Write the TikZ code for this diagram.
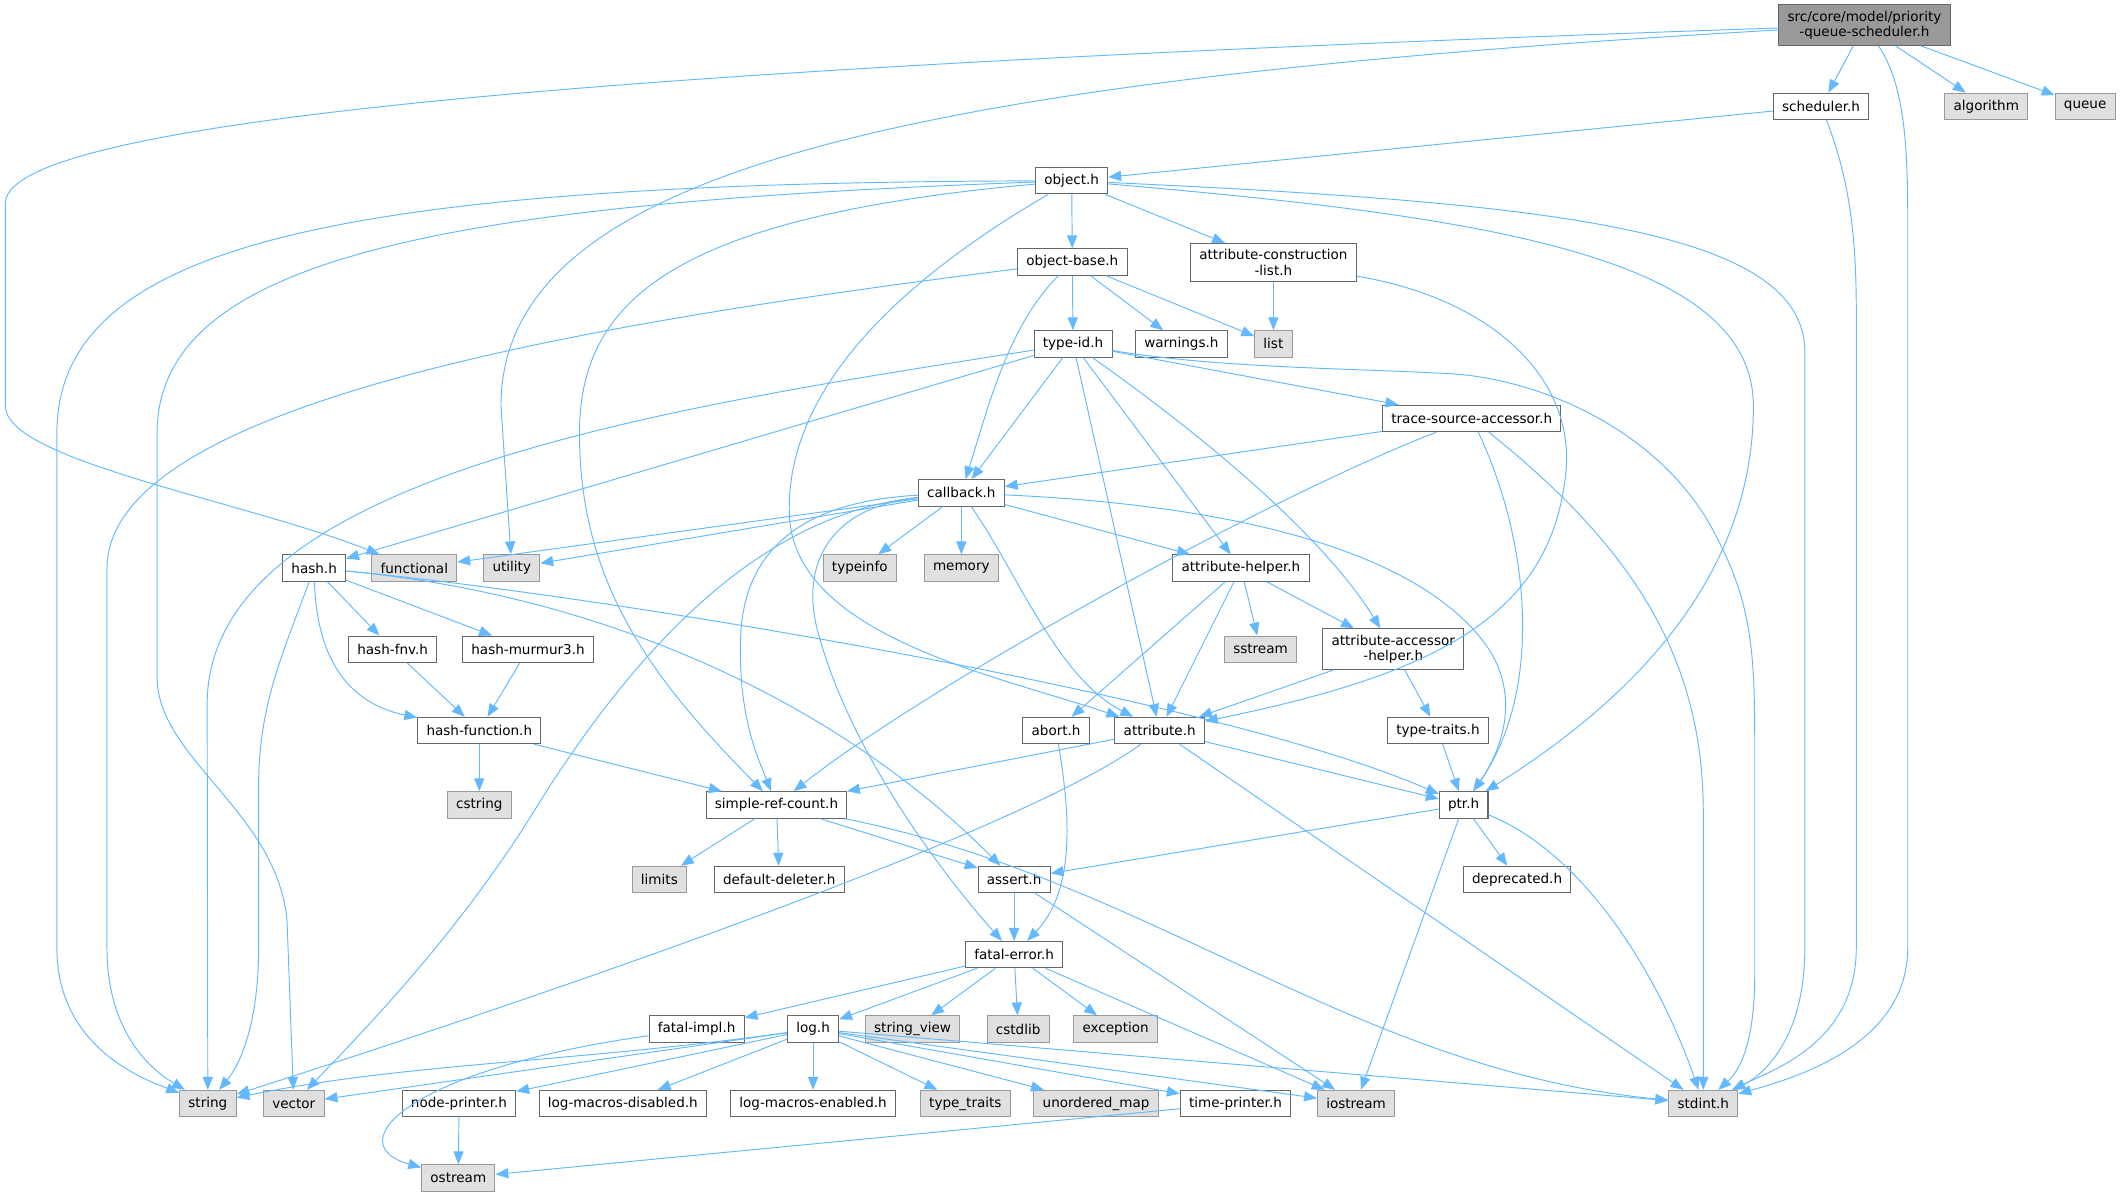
\documentclass[tikz,border=0pt]{standalone}
\usepackage{fontspec}
\setmainfont{DejaVu Sans}
\usepackage{xcolor}
\usetikzlibrary{arrows.meta}
\definecolor{edgeblue}{HTML}{63B8FF}
\definecolor{grayline}{HTML}{666666}
\definecolor{lightline}{HTML}{999999}
\definecolor{sysfill}{HTML}{E0E0E0}
\definecolor{topfill}{HTML}{999999}

\begin{document}
\begin{tikzpicture}[x=1pt, y=-1pt,
  hdr/.style={draw=grayline, fill=white, line width=0.75pt, inner xsep=6.5pt, inner ysep=4.5pt,
    minimum height=19.5pt, align=center, font=\fontsize{10}{11.5}\selectfont},
  stdhdr/.style={hdr, draw=lightline, fill=sysfill},
  tophdr/.style={hdr, fill=topfill},
  incl/.style={draw=edgeblue, line width=0.7pt, -{Triangle[length=9.5pt,width=7.5pt]}}]
  \useasboundingbox (0,0) rectangle (1568,884);

  % Row 1 (top)
  \node[tophdr] (root) at (1377,18.5) {src/core/model/priority\\-queue-scheduler.h};
  % Row 2
  \node[hdr] (sched) at (1345,78.5) {scheduler.h};
  \node[stdhdr] (algo) at (1467,78.5) {algorithm};
  \node[stdhdr] (queue) at (1540,78.5) {queue};
  % Row 3
  \node[hdr] (object) at (791.5,133.5) {object.h};
  % Row 4
  \node[hdr] (objbase) at (792,193.5) {object-base.h};
  \node[hdr] (acl) at (940.5,194) {attribute-construction\\-list.h};
  % Row 5
  \node[hdr] (typeid) at (792.5,254) {type-id.h};
  \node[hdr] (warnings) at (872.5,254) {warnings.h};
  \node[stdhdr] (list) at (940.5,254) {list};
  % Row 6
  \node[hdr] (trace) at (1087,309) {trace-source-accessor.h};
  % Row 7
  \node[hdr] (callback) at (710,364) {callback.h};
  % Row 8
  \node[hdr] (hash) at (232,419.5) {hash.h};
  \node[stdhdr] (functional) at (306,419.5) {functional};
  \node[stdhdr] (utility) at (378,419.5) {utility};
  \node[stdhdr] (typeinfo) at (635,419.5) {typeinfo};
  \node[stdhdr] (memory) at (710,419.5) {memory};
  \node[hdr] (attrhelper) at (916.5,419.5) {attribute-helper.h};
  % Row 9
  \node[hdr] (hashfnv) at (290,479.5) {hash-fnv.h};
  \node[hdr] (murmur) at (390,479.5) {hash-murmur3.h};
  \node[stdhdr] (sstream) at (931,479.5) {sstream};
  \node[hdr] (aah) at (1029,479.5) {attribute-accessor\\-helper.h};
  % Row 10
  \node[hdr] (hashfn) at (354,539.5) {hash-function.h};
  \node[hdr] (abort) at (780,539.5) {abort.h};
  \node[hdr] (attribute) at (856.5,539.5) {attribute.h};
  \node[hdr] (typetraits) at (1062,539.5) {type-traits.h};
  % Row 11
  \node[stdhdr] (cstring) at (354,594.5) {cstring};
  \node[hdr] (src) at (573.5,594.5) {simple-ref-count.h};
  \node[hdr] (ptr) at (1081,594.5) {ptr.h};
  % Row 12
  \node[stdhdr] (limits) at (487,649.5) {limits};
  \node[hdr] (deleter) at (575.5,649.5) {default-deleter.h};
  \node[hdr] (assert) at (749,649.5) {assert.h};
  \node[hdr] (deprecated) at (1120.5,649.5) {deprecated.h};
  % Row 13
  \node[hdr] (fatal) at (749,705) {fatal-error.h};
  % Row 14
  \node[hdr] (fatalimpl) at (514.5,760) {fatal-impl.h};
  \node[hdr] (log) at (600.5,760) {log.h};
  \node[stdhdr] (strview) at (674,760) {string\_view};
  \node[stdhdr] (cstdlib) at (752,760) {cstdlib};
  \node[stdhdr] (exception) at (824,760) {exception};
  % Row 15
  \node[stdhdr] (string) at (153.5,815) {string};
  \node[stdhdr] (vector) at (217,815) {vector};
  \node[hdr] (nodeprinter) at (339,815) {node-printer.h};
  \node[hdr] (lmdis) at (460,815) {log-macros-disabled.h};
  \node[hdr] (lmen) at (600.5,815) {log-macros-enabled.h};
  \node[stdhdr] (typetraitsstd) at (713,815) {type\_traits};
  \node[stdhdr] (umap) at (809.5,815) {unordered\_map};
  \node[hdr] (timeprinter) at (912.5,815) {time-printer.h};
  \node[stdhdr] (iostream) at (1001.5,815) {iostream};
  \node[stdhdr] (stdint) at (1258,815) {stdint.h};
  % Row 16 (bottom)
  \node[stdhdr] (ostream) at (338.5,870) {ostream};

  % from priority-queue-scheduler.h
  \draw[incl] (root) .. controls (600,45) and (4,80) .. (4,150) -- (4,300) .. controls (4,340) and (180,370) .. (functional);
  \draw[incl] (root) .. controls (650,60) and (370,130) .. (370,300) -- (utility);
  \draw[incl] (root) -- (sched);
  \draw[incl] (root) -- (algo);
  \draw[incl] (root) -- (queue);
  \draw[incl] (root) .. controls (1405,60) and (1409,100) .. (1409,160) -- (1409,700) .. controls (1409,770) and (1330,795) .. (stdint);

  % from scheduler.h
  \draw[incl] (sched) -- (object);
  \draw[incl] (sched) .. controls (1365,130) and (1371,170) .. (1371,230) -- (1371,700) .. controls (1371,770) and (1310,790) .. (stdint);

  % from object.h
  \draw[incl] (object) .. controls (250,135) and (42,180) .. (42,320) -- (42,700) .. controls (42,770) and (100,795) .. (string);
  \draw[incl] (object) .. controls (330,150) and (116,190) .. (116,320) -- (116,500) .. controls (116,560) and (205,600) .. (212,680) -- (vector);
  \draw[incl] (object) -- (objbase);
  \draw[incl] (object) -- (acl);
  \draw[incl] (object) .. controls (500,160) and (428,220) .. (428,320) .. controls (428,430) and (480,500) .. (src);
  \draw[incl] (object) .. controls (660,210) and (580,290) .. (583,380) .. controls (586,470) and (740,500) .. (attribute);
  \draw[incl] (object) .. controls (1100,160) and (1295,190) .. (1295,300) .. controls (1295,430) and (1200,520) .. (ptr);
  \draw[incl] (object) .. controls (1150,150) and (1333,170) .. (1333,260) -- (1333,700) .. controls (1333,780) and (1290,800) .. (stdint);

  % from object-base.h
  \draw[incl] (objbase) .. controls (420,240) and (79,300) .. (79,420) -- (79,700) .. controls (79,770) and (120,795) .. (string);
  \draw[incl] (objbase) -- (typeid);
  \draw[incl] (objbase) -- (warnings);
  \draw[incl] (objbase) -- (list);
  \draw[incl] (objbase) .. controls (745,240) and (730,300) .. (callback);

  % from attribute-construction-list.h
  \draw[incl] (acl) -- (list);
  \draw[incl] (acl) .. controls (1100,220) and (1170,280) .. (1155,360) .. controls (1140,460) and (1050,500) .. (attribute);

  % from type-id.h
  \draw[incl] (typeid) .. controls (500,300) and (153,350) .. (153,520) -- (string);
  \draw[incl] (typeid) -- (hash);
  \draw[incl] (typeid) -- (callback);
  \draw[incl] (typeid) -- (attribute);
  \draw[incl] (typeid) -- (attrhelper);
  \draw[incl] (typeid) .. controls (900,330) and (980,400) .. (aah);
  \draw[incl] (typeid) -- (trace);
  \draw[incl] (typeid) .. controls (900,272) and (1000,272) .. (1071,276) .. controls (1140,280) and (1230,320) .. (1268,397)
     .. controls (1296,450) and (1296,490) .. (1296,560) -- (1296,720) .. controls (1296,780) and (1280,795) .. (stdint);

  % from trace-source-accessor.h
  \draw[incl] (trace) -- (callback);
  \draw[incl] (trace) .. controls (930,370) and (680,510) .. (src);
  \draw[incl] (trace) .. controls (1130,400) and (1140,510) .. (ptr);
  \draw[incl] (trace) .. controls (1200,400) and (1258,480) .. (1258,600) -- (stdint);

  % from callback.h
  \draw[incl] (callback) -- (functional);
  \draw[incl] (callback) -- (utility);
  \draw[incl] (callback) -- (typeinfo);
  \draw[incl] (callback) -- (memory);
  \draw[incl] (callback) -- (attrhelper);
  \draw[incl] (callback) .. controls (560,380) and (470,480) .. (400,590) .. controls (340,690) and (260,770) .. (vector);
  \draw[incl] (callback) .. controls (600,370) and (550,400) .. (547,470) .. controls (545,530) and (560,560) .. (src);
  \draw[incl] (callback) .. controls (610,375) and (590,420) .. (605,470) .. controls (630,560) and (700,650) .. (fatal);
  \draw[incl] (callback) .. controls (750,420) and (780,500) .. (attribute);
  \draw[incl] (callback) .. controls (950,375) and (1060,420) .. (1100,480) .. controls (1125,520) and (1105,560) .. (ptr);

  % from hash.h
  \draw[incl] (hash) .. controls (210,480) and (191,520) .. (191,580) -- (191,700) .. controls (191,770) and (170,795) .. (string);
  \draw[incl] (hash) -- (hashfnv);
  \draw[incl] (hash) -- (murmur);
  \draw[incl] (hash) .. controls (234,490) and (260,520) .. (hashfn);
  \draw[incl] (hash) .. controls (450,440) and (900,515) .. (ptr);
  \draw[incl] (hash) .. controls (450,440) and (620,520) .. (assert);

  % hash functions
  \draw[incl] (hashfnv) -- (hashfn);
  \draw[incl] (murmur) -- (hashfn);
  \draw[incl] (hashfn) -- (cstring);
  \draw[incl] (hashfn) -- (src);

  % attribute helpers
  \draw[incl] (attrhelper) -- (abort);
  \draw[incl] (attrhelper) -- (attribute);
  \draw[incl] (attrhelper) -- (sstream);
  \draw[incl] (attrhelper) -- (aah);
  \draw[incl] (aah) -- (attribute);
  \draw[incl] (aah) -- (typetraits);
  \draw[incl] (typetraits) -- (ptr);
  \draw[incl] (abort) .. controls (792,610) and (792,660) .. (fatal);

  % from attribute.h
  \draw[incl] (attribute) .. controls (760,610) and (450,720) .. (string);
  \draw[incl] (attribute) -- (src);
  \draw[incl] (attribute) -- (ptr);
  \draw[incl] (attribute) -- (stdint);

  % from simple-ref-count.h
  \draw[incl] (src) -- (limits);
  \draw[incl] (src) -- (deleter);
  \draw[incl] (src) -- (assert);
  \draw[incl] (src) .. controls (850,650) and (1000,790) .. (stdint);

  % from ptr.h
  \draw[incl] (ptr) -- (assert);
  \draw[incl] (ptr) -- (deprecated);
  \draw[incl] (ptr) -- (iostream);
  \draw[incl] (ptr) .. controls (1170,630) and (1225,720) .. (stdint);

  % from assert.h
  \draw[incl] (assert) -- (fatal);
  \draw[incl] (assert) -- (iostream);

  % from fatal-error.h
  \draw[incl] (fatal) -- (fatalimpl);
  \draw[incl] (fatal) -- (log);
  \draw[incl] (fatal) -- (strview);
  \draw[incl] (fatal) -- (cstdlib);
  \draw[incl] (fatal) -- (exception);
  \draw[incl] (fatal) -- (iostream);
  \draw[incl] (fatalimpl) .. controls (300,790) and (250,845) .. (ostream);

  % from log.h
  \draw[incl] (log) .. controls (420,785) and (300,785) .. (string);
  \draw[incl] (log) -- (vector);
  \draw[incl] (log) -- (nodeprinter);
  \draw[incl] (log) -- (lmdis);
  \draw[incl] (log) -- (lmen);
  \draw[incl] (log) -- (typetraitsstd);
  \draw[incl] (log) -- (umap);
  \draw[incl] (log) -- (timeprinter);
  \draw[incl] (log) -- (iostream);
  \draw[incl] (log) -- (stdint);

  % printers
  \draw[incl] (nodeprinter) -- (ostream);
  \draw[incl] (timeprinter) -- (ostream);
\end{tikzpicture}
\end{document}
